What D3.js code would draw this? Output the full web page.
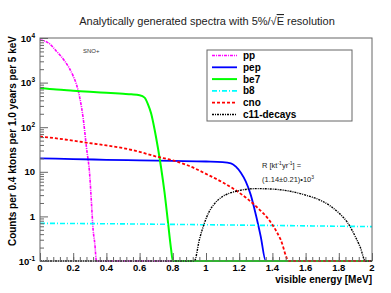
<!DOCTYPE html>
<html>
<head>
<meta charset="utf-8">
<script src="https://cdn.jsdelivr.net/npm/d3@7"></script>
<style>
body { margin: 0; background: #fff; }
svg text { font-family: "Liberation Sans", Arial, Helvetica, sans-serif; }
</style>
</head>
<body>
<div id="container"></div>
<script>
// Spectra, energy in MeV and counts
var ppE   = [0, 0.05, 0.1, 0.15, 0.2, 0.22, 0.24, 0.26, 0.28, 0.30, 0.31, 0.32, 0.33, 0.34, 2.0];
var ppV   = [9000, 7800, 5000, 3000, 1400, 900, 450, 160, 35, 8, 2, 0.5, 0.25, 0.1, 0];

var pepE  = [0, 0.2, 0.4, 0.6, 0.8, 1.0, 1.1, 1.15, 1.18, 1.21, 1.24, 1.27, 1.30, 1.33, 1.36, 2.0];
var pepV  = [20, 19.3, 18.6, 18, 17.5, 17, 16.5, 15.5, 13, 9.5, 6, 3, 1.1, 0.35, 0.1, 0];

var be7E  = [0, 0.1, 0.2, 0.3, 0.4, 0.5, 0.55, 0.6, 0.63, 0.65, 0.67, 0.69, 0.71, 0.73, 0.75, 0.77, 0.79, 0.80, 2.0];
var be7V  = [760, 700, 660, 620, 590, 560, 545, 520, 460, 330, 200, 90, 35, 12, 3.5, 0.8, 0.18, 0.1, 0];

var b8E   = [0, 0.5, 1.0, 1.5, 2.0];
var b8V   = [0.70, 0.68, 0.65, 0.62, 0.59];

var cnoE  = [0, 0.1, 0.2, 0.3, 0.4, 0.5, 0.6, 0.7, 0.8, 0.9, 1.0, 1.1, 1.2, 1.3, 1.4, 1.45, 1.5, 2.0];
var cnoV  = [62, 56, 50, 44, 39, 34, 28, 22, 18, 13.5, 9, 5.8, 3.4, 1.7, 0.65, 0.3, 0.1, 0];

var c11E  = [0, 0.93, 0.96, 0.99, 1.02, 1.05, 1.1, 1.15, 1.2, 1.3, 1.4, 1.5, 1.6, 1.7, 1.75, 1.8, 1.85, 1.9, 1.93, 1.96, 2.0];
var c11V  = [0, 0.1, 0.3, 0.7, 1.3, 1.9, 2.8, 3.4, 3.8, 4.2, 4.1, 3.7, 3.0, 2.2, 1.7, 1.2, 0.75, 0.35, 0.2, 0.1, 0];

var seriesNames  = ["pp", "pep", "be7", "b8", "cno", "c11-decays"];
var seriesColors = ["#ff00ff", "#0000ff", "#00ff00", "#00ffff", "#ff0000", "#000000"];
var seriesDash   = ["3,1,1,1", null, null, "5,2,1,2", "3,2", "2,1,1,1"];
var seriesWidth  = [1.6, 1.8, 2, 1.6, 1.8, 1.4];

var xTicks = [0, 0.2, 0.4, 0.6, 0.8, 1, 1.2, 1.4, 1.6, 1.8, 2];
var yTicks = [0.1, 1, 10, 100, 1000, 10000];
var yTickBase = ["10", "1", "10", "10", "10", "10"];
var yTickExp  = ["-1", "", "", "2", "3", "4"];

// Layout
var w = 391, h = 293;
var plotL = 40, plotR = 372, plotT = 38, plotB = 261;
var yMin = 0.1;

var svg = d3.select("#container").append("svg")
	.attr("width", w)
	.attr("height", h);

var x = d3.scaleLinear().domain([0, 2]).range([plotL, plotR]);
var y = d3.scaleLog().domain([yMin, 10000]).range([plotB, plotT]);

// Curves (values below the axis minimum sit on the bottom line, as in ROOT)
var series = [[ppE, ppV], [pepE, pepV], [be7E, be7V], [b8E, b8V], [cnoE, cnoV], [c11E, c11V]];

var line = d3.line()
	.x(function(d) { return x(d[0]); })
	.y(function(d) { return y(Math.max(d[1], yMin)); })
	.curve(d3.curveMonotoneX);

svg.append("g").selectAll("path")
	.data(series)
	.enter()
	.append("path")
	.attr("fill", "none")
	.attr("stroke", function(d, i) { return seriesColors[i]; })
	.attr("stroke-width", function(d, i) { return seriesWidth[i]; })
	.attr("stroke-dasharray", function(d, i) { return seriesDash[i]; })
	.attr("d", function(d) { return line(d3.zip(d[0], d[1])); });

// Frame
svg.append("rect")
	.attr("x", plotL).attr("y", plotT)
	.attr("width", plotR - plotL).attr("height", plotB - plotT)
	.attr("fill", "none")
	.attr("stroke", "#666")
	.attr("stroke-width", 1);

// Axes, ticks inside the frame
var yMinor = [];
yTicks.forEach(function(t, i) {
	if (i < yTicks.length - 1)
		for (var k = 2; k < 10; k++) yMinor.push(t * k);
});

var xMinor = d3.range(0, 2.001, 0.04);

var axisStyle = function(g) {
	g.select(".domain").remove();
	g.selectAll("line").attr("stroke", "#666");
};

svg.append("g")
	.attr("transform", "translate(" + plotL + ",0)")
	.call(d3.axisLeft(y).tickValues(yMinor).tickSize(-4).tickFormat(""))
	.call(axisStyle);

svg.append("g")
	.attr("transform", "translate(" + plotL + ",0)")
	.call(d3.axisLeft(y).tickValues(yTicks).tickSize(-8).tickFormat(""))
	.call(axisStyle);

svg.append("g")
	.attr("transform", "translate(0," + plotB + ")")
	.call(d3.axisBottom(x).tickValues(xMinor).tickSize(-4).tickFormat(""))
	.call(axisStyle);

svg.append("g")
	.attr("transform", "translate(0," + plotB + ")")
	.call(d3.axisBottom(x).tickValues(xTicks).tickSize(-8).tickFormat(""))
	.call(axisStyle);

// Tick labels
svg.selectAll("text.xlab")
	.data(xTicks)
	.enter()
	.append("text")
	.attr("x", function(d) { return x(d); })
	.attr("y", plotB + 10)
	.attr("text-anchor", "middle")
	.attr("font-size", 9.5)
	.attr("font-weight", "bold")
	.text(function(d) { return d3.format("~g")(d); });

var yl = svg.selectAll("text.ylab")
	.data(yTicks)
	.enter()
	.append("text")
	.attr("x", 35)
	.attr("y", function(d) { return y(d) + 3.5; })
	.attr("text-anchor", "end")
	.attr("font-size", 9.5)
	.attr("font-weight", "bold");
yl.append("tspan").text(function(d, i) { return yTickBase[i]; });
yl.append("tspan")
	.attr("dy", -4)
	.attr("font-size", 6.5)
	.text(function(d, i) { return yTickExp[i]; });

// Titles
var title = svg.append("text")
	.attr("x", 207).attr("y", 25)
	.attr("text-anchor", "middle")
	.attr("font-size", 11)
	.attr("fill", "#222");
title.append("tspan").text("Analytically generated spectra with 5%/\u221A");
title.append("tspan").style("text-decoration", "overline").text("E");
title.append("tspan").text(" resolution");

svg.append("text")
	.attr("transform", "translate(16," + 36 + ") rotate(-90)")
	.attr("text-anchor", "end")
	.attr("font-size", 10)
	.attr("font-weight", "bold")
	.text("Counts per 0.4 ktons per 1.0 years per 5 keV");

svg.append("text")
	.attr("x", plotR).attr("y", 283)
	.attr("text-anchor", "end")
	.attr("font-size", 10)
	.attr("font-weight", "bold")
	.text("visible energy [MeV]");

// Annotations
svg.append("text")
	.attr("x", 83).attr("y", 53)
	.attr("font-size", 6)
	.attr("fill", "#333")
	.text("SNO+");

var r1 = svg.append("text")
	.attr("x", 262).attr("y", 168)
	.attr("font-size", 7.5)
	.attr("fill", "#222");
r1.append("tspan").text("R [kt");
r1.append("tspan").attr("dy", -3).attr("font-size", 5).text("-1");
r1.append("tspan").attr("dy", 3).text("yr");
r1.append("tspan").attr("dy", -3).attr("font-size", 5).text("-1");
r1.append("tspan").attr("dy", 3).text("] =");

var r2 = svg.append("text")
	.attr("x", 262).attr("y", 182)
	.attr("font-size", 7.5)
	.attr("fill", "#222");
r2.append("tspan").text("(1.14\u00B10.21)\u202210");
r2.append("tspan").attr("dy", -3).attr("font-size", 5).text("3");

// Legend
var legX = 207, legY = 50, legW = 145, legH = 71, rowH = 11.8;

svg.append("rect")
	.attr("x", legX).attr("y", legY)
	.attr("width", legW).attr("height", legH)
	.attr("fill", "#fff")
	.attr("stroke", "#666")
	.attr("stroke-width", 1);

var leg = svg.selectAll("g.legend")
	.data(seriesNames)
	.enter()
	.append("g")
	.attr("transform", function(d, i) {
		return "translate(" + legX + "," + (legY + 5.5 + i * rowH) + ")";
	});

leg.append("line")
	.attr("x1", 5).attr("x2", 30)
	.attr("y1", 0).attr("y2", 0)
	.attr("stroke", function(d, i) { return seriesColors[i]; })
	.attr("stroke-width", function(d, i) { return seriesWidth[i]; })
	.attr("stroke-dasharray", function(d, i) { return seriesDash[i]; });

leg.append("text")
	.attr("x", 36).attr("y", 3.5)
	.attr("font-size", 10)
	.attr("font-weight", "bold")
	.text(function(d) { return d; });
</script>
</body>
</html>
